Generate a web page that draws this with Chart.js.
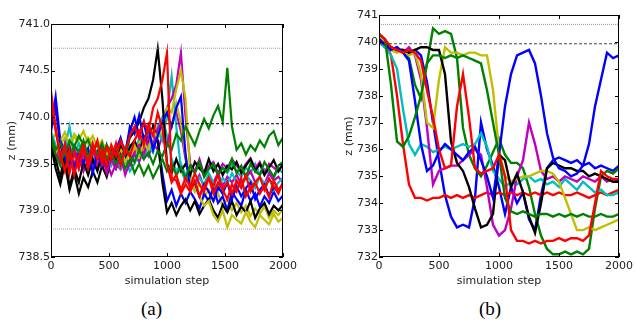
<!DOCTYPE html>
<html>
<head>
<meta charset="utf-8">
<script src="https://cdn.jsdelivr.net/npm/chart.js@4.4.0/dist/chart.umd.min.js"></script>
<style>
  body { margin: 0; background: #fff; }
  #page { position: relative; width: 636px; height: 322px; overflow: hidden; }
  canvas { position: absolute; top: 0; }
  #cA { left: 0; }
  #cB { left: 337px; }
  .cap { position: absolute; top: 298px; font: 19px "Liberation Serif", "Times New Roman", serif; color: #000; }
</style>
</head>
<body>
<div id="page">
  <canvas id="cA" width="300" height="292"></canvas>
  <canvas id="cB" width="299" height="292"></canvas>
  <div class="cap" style="left:141px">(a)</div>
  <div class="cap" style="left:479px">(b)</div>
</div>
<script>
// ---- panel (a): 14 runs, sampled every 40 steps ----
const stepsA = [
  0, 40, 80, 120, 160, 200, 240, 280, 320, 360,
  400, 440, 480, 520, 560, 600, 640, 680, 720, 760,
  800, 840, 880, 920, 960, 1000, 1040, 1080, 1120, 1160,
  1200, 1240, 1280, 1320, 1360, 1400, 1440, 1480, 1520, 1560,
  1600, 1640, 1680, 1720, 1760, 1800, 1840, 1880, 1920, 1960,
  2000
];

const blueA1 = [
  739.90, 740.22, 739.75, 739.62, 739.48, 739.66, 739.52, 739.70, 739.45, 739.63,
  739.58, 739.72, 739.50, 739.68, 739.55, 739.74, 739.62, 739.85, 740.00, 739.80,
  739.95, 739.70, 739.90, 739.75, 739.40, 739.10, 739.22, 739.05, 739.18, 739.08,
  739.20, 739.12, 739.02, 739.18, 739.10, 739.25, 739.08, 739.15, 739.00, 739.20,
  739.12, 739.05, 739.22, 739.10, 739.18, 739.04, 739.15, 739.08, 739.20, 739.10,
  739.16
];
const blueA2 = [
  739.85, 740.10, 739.70, 739.55, 739.68, 739.45, 739.60, 739.50, 739.66, 739.40,
  739.62, 739.48, 739.70, 739.55, 739.65, 739.78, 739.60, 739.90, 739.82, 740.02,
  739.75, 739.88, 739.65, 739.80, 739.95, 740.05, 739.90, 740.10, 740.22, 739.60,
  739.22, 739.30, 739.15, 739.28, 739.20, 739.10, 739.25, 739.18, 739.30, 739.12,
  739.26, 739.15, 739.24, 739.30, 739.12, 739.22, 739.28, 739.16, 739.25, 739.20,
  739.30
];
const greenA1 = [
  739.80, 739.65, 739.72, 739.60, 739.75, 739.68, 739.80, 739.70, 739.76, 739.62,
  739.72, 739.58, 739.70, 739.62, 739.66, 739.55, 739.68, 739.60, 739.52, 739.65,
  739.55, 739.62, 739.50, 739.64, 739.58, 739.72, 739.65, 739.82, 739.75, 739.90,
  739.80, 739.70, 739.85, 739.98, 739.88, 740.02, 740.12, 739.95, 740.53, 739.90,
  739.65, 739.72, 739.60, 739.70, 739.64, 739.75, 739.68, 739.80, 739.85, 739.70,
  739.78
];
const greenA2 = [
  739.75, 739.60, 739.48, 739.66, 739.55, 739.70, 739.62, 739.75, 739.58, 739.68,
  739.60, 739.72, 739.55, 739.62, 739.50, 739.58, 739.45, 739.55, 739.40, 739.50,
  739.38, 739.48, 739.35, 739.45, 739.55, 739.42, 739.50, 739.38, 739.46, 739.35,
  739.48, 739.40, 739.52, 739.36, 739.45, 739.50, 739.38, 739.46, 739.42, 739.55,
  739.40, 739.48, 739.35, 739.50, 739.42, 739.38, 739.52, 739.44, 739.36, 739.48,
  739.52
];
const redA1 = [
  740.28, 739.90, 739.55, 739.70, 739.40, 739.62, 739.45, 739.68, 739.50, 739.72,
  739.55, 739.65, 739.48, 739.70, 739.58, 739.75, 739.62, 739.80, 739.90, 739.78,
  739.95, 739.85, 740.10, 740.20, 740.40, 740.69, 739.35, 739.32, 739.18, 739.28,
  739.20, 739.32, 739.15, 739.26, 739.35, 739.18, 739.30, 739.22, 739.12, 739.28,
  739.20, 739.35, 739.15, 739.25, 739.30, 739.18, 739.26, 739.14, 739.32, 739.22,
  739.28
];
const redA2 = [
  740.20, 739.85, 739.60, 739.42, 739.65, 739.38, 739.58, 739.70, 739.45, 739.62,
  739.75, 739.50, 739.68, 739.55, 739.72, 739.48, 739.66, 739.58, 739.75, 739.85,
  739.70, 739.92, 739.80, 740.05, 739.88, 739.50, 739.30, 739.38, 739.22, 739.35,
  739.25, 739.40, 739.28, 739.20, 739.35, 739.26, 739.38, 739.22, 739.30, 739.18,
  739.32, 739.24, 739.38, 739.20, 739.30, 739.36, 739.22, 739.34, 739.26, 739.18,
  739.30
];
const cyanA1 = [
  739.85, 739.70, 739.55, 739.68, 739.90, 739.60, 739.72, 739.58, 739.66, 739.52,
  739.64, 739.50, 739.62, 739.48, 739.58, 739.45, 739.55, 739.42, 739.50, 739.62,
  739.55, 739.70, 739.62, 739.85, 739.75, 740.05, 740.44, 739.90, 739.45, 739.30,
  739.38, 739.25, 739.35, 739.28, 739.40, 739.30, 739.22, 739.35, 739.28, 739.40,
  739.30, 739.25, 739.38, 739.32, 739.24, 739.36, 739.28, 739.34, 739.22, 739.30,
  739.35
];
const cyanA2 = [
  739.75, 739.62, 739.78, 739.55, 739.70, 739.60, 739.52, 739.66, 739.48, 739.60,
  739.55, 739.68, 739.42, 739.58, 739.50, 739.62, 739.56, 739.70, 739.60, 739.78,
  739.68, 739.82, 739.72, 739.90, 740.00, 739.80, 739.55, 739.42, 739.50, 739.38,
  739.46, 739.40, 739.50, 739.36, 739.44, 739.48, 739.38, 739.45, 739.40, 739.50,
  739.42, 739.36, 739.46, 739.40, 739.50, 739.38, 739.44, 739.40, 739.35, 739.45,
  739.40
];
const magentaA1 = [
  739.80, 739.65, 739.50, 739.72, 739.58, 739.66, 739.45, 739.60, 739.52, 739.68,
  739.48, 739.60, 739.40, 739.55, 739.45, 739.58, 739.38, 739.52, 739.62, 739.70,
  739.60, 739.78, 739.70, 739.88, 739.95, 740.10, 740.20, 740.35, 740.69, 740.00,
  739.50, 739.42, 739.55, 739.38, 739.48, 739.52, 739.40, 739.50, 739.45, 739.55,
  739.48, 739.42, 739.50, 739.56, 739.45, 739.52, 739.40, 739.50, 739.46, 739.42,
  739.50
];
const magentaA2 = [
  739.70, 739.55, 739.62, 739.45, 739.58, 739.50, 739.64, 739.42, 739.55, 739.48,
  739.60, 739.45, 739.52, 739.38, 739.50, 739.44, 739.56, 739.48, 739.60, 739.52,
  739.66, 739.58, 739.72, 739.65, 739.80, 739.70, 739.92, 740.05, 739.85, 739.55,
  739.35, 739.28, 739.38, 739.25, 739.34, 739.30, 739.40, 739.26, 739.36, 739.30,
  739.38, 739.28, 739.35, 739.42, 739.30, 739.36, 739.28, 739.40, 739.32, 739.36,
  739.30
];
const yellowA1 = [
  739.80, 739.62, 739.75, 739.84, 739.70, 739.82, 739.76, 739.85, 739.72, 739.80,
  739.68, 739.75, 739.60, 739.70, 739.58, 739.66, 739.52, 739.62, 739.70, 739.58,
  739.72, 739.65, 739.85, 739.78, 739.95, 740.10, 740.05, 740.30, 740.50, 740.20,
  739.40, 739.25, 739.15, 739.05, 739.10, 738.95, 738.88, 739.00, 738.82, 738.95,
  738.90, 738.86, 738.98, 738.88, 738.82, 738.95, 738.90, 738.85, 738.96, 738.88,
  738.92
];
const yellowA2 = [
  739.75, 739.82, 739.70, 739.78, 739.65, 739.80, 739.72, 739.66, 739.78, 739.70,
  739.62, 739.72, 739.65, 739.58, 739.68, 739.55, 739.64, 739.58, 739.66, 739.72,
  739.62, 739.78, 739.70, 739.88, 739.80, 740.00, 739.90, 740.15, 739.95, 739.60,
  739.30, 739.20, 739.28, 739.15, 739.22, 739.10, 739.18, 739.05, 739.12, 739.00,
  739.08, 738.98, 739.05, 738.94, 739.02, 738.96, 739.04, 738.92, 739.00, 738.95,
  739.02
];
const blackA1 = [
  739.80, 739.55, 739.35, 739.60, 739.25, 739.45, 739.30, 739.52, 739.38, 739.55,
  739.42, 739.60, 739.48, 739.65, 739.55, 739.70, 739.62, 739.78, 739.85, 739.95,
  740.10, 740.20, 740.40, 740.73, 740.20, 739.50, 739.40, 739.55, 739.42, 739.50,
  739.38, 739.52, 739.45, 739.40, 739.55, 739.42, 739.50, 739.38, 739.48, 739.44,
  739.52, 739.40, 739.48, 739.55, 739.42, 739.50, 739.38, 739.46, 739.54, 739.42,
  739.50
];
const blackA2 = [
  739.70, 739.45, 739.28, 739.50, 739.22, 739.40, 739.18, 739.35, 739.25, 739.42,
  739.30, 739.48, 739.36, 739.55, 739.45, 739.60, 739.52, 739.68, 739.75, 739.62,
  739.80, 739.72, 739.90, 739.75, 739.30, 738.98, 739.08, 738.95, 739.05, 739.12,
  739.00, 739.10, 738.96, 739.05, 739.12, 739.00, 738.92, 739.06, 738.98, 739.10,
  738.95, 739.04, 738.98, 739.10, 738.92, 739.02, 739.08, 738.96, 739.05, 739.00,
  739.06
];
// reference levels (a)
const refA = { upper: 740.74, target: 739.93, lower: 738.8 };

// ---- panel (b): 10 runs, sampled every 50 steps ----
const stepsB = [
  0, 50, 100, 150, 200, 250, 300, 350, 400, 450,
  500, 550, 600, 650, 700, 750, 800, 850, 900, 950,
  1000, 1050, 1100, 1150, 1200, 1250, 1300, 1350, 1400, 1450,
  1500, 1550, 1600, 1650, 1700, 1750, 1800, 1850, 1900, 1950,
  2000
];
const blueB1 = [
  740.0, 739.8, 739.8, 739.7, 739.7, 739.6, 739.7, 739.5, 738.5, 737.0,
  735.6, 734.3, 733.5, 733.1, 733.2, 733.1, 734.2, 737.0, 736.0, 735.4,
  734.6, 733.6, 734.6, 734.0, 734.4, 733.4, 733.0, 734.3, 735.3, 735.6,
  735.7, 735.6, 735.5, 735.6, 735.4, 735.5, 735.3, 735.4, 735.3, 735.2,
  735.4
];
const blueB2 = [
  740.1, 739.9, 739.7, 739.8, 739.6, 739.3, 737.8, 736.2, 735.2, 735.4,
  735.9, 736.2, 736.0, 735.8, 735.6, 735.9, 736.1, 735.6, 735.0, 734.2,
  735.8, 737.6, 738.8, 739.5, 739.6, 739.7, 739.2, 738.0, 736.6, 735.7,
  735.3, 735.2, 735.0, 735.1, 735.4, 736.2, 737.6, 738.6, 739.6, 739.4,
  739.5
];
const greenB1 = [
  740.2, 740.0, 739.8, 739.7, 739.6, 739.4, 738.4, 737.9, 739.2, 740.5,
  740.3, 740.4, 740.3, 739.4, 736.8, 735.8, 735.3, 735.0, 735.4, 735.9,
  736.4, 735.8, 735.5, 735.5, 735.3, 734.6, 733.6, 732.8, 732.3, 732.1,
  732.1, 732.2, 732.1, 732.2, 732.1, 732.3, 733.8, 735.0, 735.2, 735.1,
  735.3
];
const greenB2 = [
  740.3, 740.1, 738.4, 736.3, 736.1, 736.5, 737.2, 738.0, 739.2, 739.5,
  739.5, 739.4, 739.5, 739.4, 739.5, 739.4, 739.3, 739.2, 738.2, 737.0,
  735.8, 734.2, 733.7, 733.6, 733.7, 733.6, 733.5, 733.6, 733.6, 733.5,
  733.6, 733.5, 733.6, 733.5, 733.6, 733.5, 733.5, 733.6, 733.5, 733.5,
  733.6
];
const redB1 = [
  740.3, 740.0, 739.5, 738.0, 736.2, 734.7, 734.2, 734.2, 734.1, 734.2,
  734.2, 734.3, 734.2, 734.3, 734.2, 734.3, 734.2, 734.3, 734.4, 734.3,
  734.4, 734.3, 734.4, 734.3, 734.4, 734.3, 734.4, 734.3, 734.4, 734.3,
  734.4, 734.3, 734.3, 734.4, 734.3, 734.2, 734.3, 734.4, 734.3, 734.4,
  734.5
];
const redB2 = [
  740.3, 740.1, 739.8, 739.7, 739.6, 739.7, 739.6, 739.3, 738.2, 737.2,
  736.0, 735.3, 735.4, 737.6, 738.8, 737.2, 735.3, 735.1, 735.2, 735.3,
  735.8, 735.0, 733.0, 732.6, 732.6, 732.5, 732.6, 732.5, 732.6, 732.6,
  732.7, 732.6, 732.7, 732.7, 732.6, 732.8, 734.0, 735.2, 735.0, 734.9,
  734.9
];
const cyanB1 = [
  740.0, 739.8, 739.5, 739.0, 737.5, 736.2, 735.8, 736.2, 736.1, 735.9,
  736.0, 736.1, 736.0, 736.1, 736.2, 736.1, 736.2, 736.6, 736.1, 735.2,
  734.9, 734.6, 734.8, 734.7, 734.9, 735.0, 734.8, 734.9, 734.7, 734.8,
  734.6, 734.9, 734.7, 734.5, 734.8, 734.6, 734.4, 734.5, 734.3, 734.3,
  734.4
];
const magentaB1 = [
  740.0, 739.9, 739.7, 739.8, 739.6, 739.8, 739.5, 738.6, 736.8, 734.7,
  735.2, 735.3, 735.4, 735.4, 735.6, 735.8, 736.0, 735.8, 734.6, 733.2,
  732.8, 733.0, 733.8, 735.0, 735.6, 737.0, 736.2, 735.2, 734.9, 735.0,
  734.8, 735.0, 734.9, 734.8, 735.0, 734.9, 734.8, 735.0, 734.8, 734.9,
  734.8
];
const yellowB1 = [
  740.2, 740.0, 739.7, 739.6, 739.7, 739.5, 739.6, 738.8, 737.0, 736.8,
  738.6, 739.8, 739.6, 739.6, 739.5, 739.6, 739.6, 739.5, 739.5, 738.2,
  736.0, 735.0, 734.8, 734.9, 735.0, 735.0, 735.1, 735.2, 735.2, 735.1,
  734.8, 734.2, 733.6, 733.0, 733.0, 733.1, 733.0, 733.1, 733.2, 733.3,
  733.4
];
const blackB1 = [
  740.1, 739.9, 739.8, 739.7, 739.7, 739.6, 739.7, 739.8, 739.8, 739.7,
  739.7, 738.8, 736.3, 735.5, 735.2, 734.6, 733.8, 733.1, 733.2, 733.6,
  735.8, 735.6, 734.6, 735.1, 734.4, 733.5, 732.9, 734.0, 735.3, 735.5,
  735.4, 735.3, 735.3, 735.2, 735.2, 735.0, 735.1, 735.0, 734.9, 734.8,
  734.8
];
// reference levels (b)
const refB = { upper: 740.65, target: 739.93 };

const C = { b: '#0000ff', g: '#008000', r: '#ff0000', c: '#00bfbf', m: '#bf00bf', y: '#bfbf00', k: '#000000' };

const pts = (steps, vals) => vals.map((v, i) => ({ x: steps[i], y: v }));
const run = (steps, vals, color, w) => ({
  data: pts(steps, vals), borderColor: color, borderWidth: w,
  pointRadius: 0, tension: 0, fill: false
});
const level = (v, color, dash) => ({
  data: [{ x: 0, y: v }, { x: 2000, y: v }], borderColor: color, borderWidth: 1,
  borderDash: dash, pointRadius: 0, fill: false
});

// inward ticks on all four sides + frame, like matplotlib
const frameTicks = {
  id: 'frameTicks',
  afterDatasetsDraw(chart) {
    const { ctx, chartArea: a, scales: { x, y } } = chart;
    ctx.save();
    ctx.strokeStyle = '#000';
    ctx.lineWidth = 1;
    ctx.beginPath();
    x.ticks.forEach(t => {
      const p = Math.round(x.getPixelForValue(t.value)) + 0.5;
      ctx.moveTo(p, a.bottom); ctx.lineTo(p, a.bottom - 4);
      ctx.moveTo(p, a.top); ctx.lineTo(p, a.top + 4);
    });
    y.ticks.forEach(t => {
      const p = Math.round(y.getPixelForValue(t.value)) + 0.5;
      ctx.moveTo(a.left, p); ctx.lineTo(a.left + 4, p);
      ctx.moveTo(a.right, p); ctx.lineTo(a.right - 4, p);
    });
    ctx.stroke();
    ctx.strokeRect(Math.round(a.left) + 0.5, Math.round(a.top) + 0.5, Math.round(a.width) - 1, Math.round(a.height) - 1);
    ctx.restore();
  }
};

const tickFont = { family: 'DejaVu Sans', size: 11 };

function makeChart(id, datasets, yMin, yMax, yStep, yFmt, yWidth, padTop, padRight) {
  return new Chart(document.getElementById(id), {
    type: 'line',
    data: { datasets: datasets.slice().reverse() },   // first dataset is drawn on top
    options: {
      responsive: false,
      animation: false,
      layout: { padding: { top: padTop, right: padRight, left: 0, bottom: 0 } },
      plugins: { legend: { display: false }, tooltip: { enabled: false } },
      scales: {
        x: {
          type: 'linear', min: 0, max: 2000,
          grid: { display: false, drawTicks: false },
          border: { display: false },
          ticks: { stepSize: 500, maxRotation: 0, autoSkip: false, padding: 3, color: '#222', font: tickFont,
                   callback: v => String(v) },
          title: { display: true, text: 'simulation step', color: '#222', font: tickFont, padding: { top: 0, bottom: 4 } },
          afterFit: s => { s.height = 35; }
        },
        y: {
          min: yMin, max: yMax,
          grid: { display: false, drawTicks: false },
          border: { display: false },
          ticks: { stepSize: yStep, padding: 1, color: '#222', font: tickFont, callback: yFmt },
          title: { display: true, text: 'z (mm)', color: '#222', font: tickFont, padding: { top: 6, bottom: 0 } },
          afterFit: s => { s.width = yWidth; }
        }
      }
    },
    plugins: [frameTicks]
  });
}

// bottom-to-top order
const wA = 2.2;
const setsA = [
  run(stepsA, cyanA2, C.c, wA), run(stepsA, magentaA2, C.m, wA), run(stepsA, yellowA2, C.y, wA),
  run(stepsA, blueA1, C.b, wA), run(stepsA, blackA2, C.k, wA), run(stepsA, cyanA1, C.c, wA),
  run(stepsA, magentaA1, C.m, wA), run(stepsA, yellowA1, C.y, wA), run(stepsA, blackA1, C.k, wA),
  run(stepsA, blueA2, C.b, wA), run(stepsA, greenA2, C.g, wA), run(stepsA, greenA1, C.g, wA),
  run(stepsA, redA1, C.r, wA), run(stepsA, redA2, C.r, wA),
  level(refA.upper, '#999', [1, 1]), level(refA.lower, '#999', [1, 1]), level(refA.target, '#000', [3, 2])
];
makeChart('cA', setsA, 738.5, 741.0, 0.5, v => v.toFixed(1), 51, 24, 16);

const wB = 2.4;
const setsB = [
  run(stepsB, blueB1, C.b, wB), run(stepsB, greenB1, C.g, wB), run(stepsB, redB1, C.r, wB),
  run(stepsB, cyanB1, C.c, wB), run(stepsB, magentaB1, C.m, wB), run(stepsB, yellowB1, C.y, wB),
  run(stepsB, blackB1, C.k, wB), run(stepsB, blueB2, C.b, wB), run(stepsB, greenB2, C.g, wB),
  run(stepsB, redB2, C.r, wB),
  level(refB.upper, '#999', [1, 1]), level(refB.target, '#444', [3, 2])
];
makeChart('cB', setsB, 732, 741, 1, v => String(v), 42, 15, 15);
</script>
</body>
</html>
